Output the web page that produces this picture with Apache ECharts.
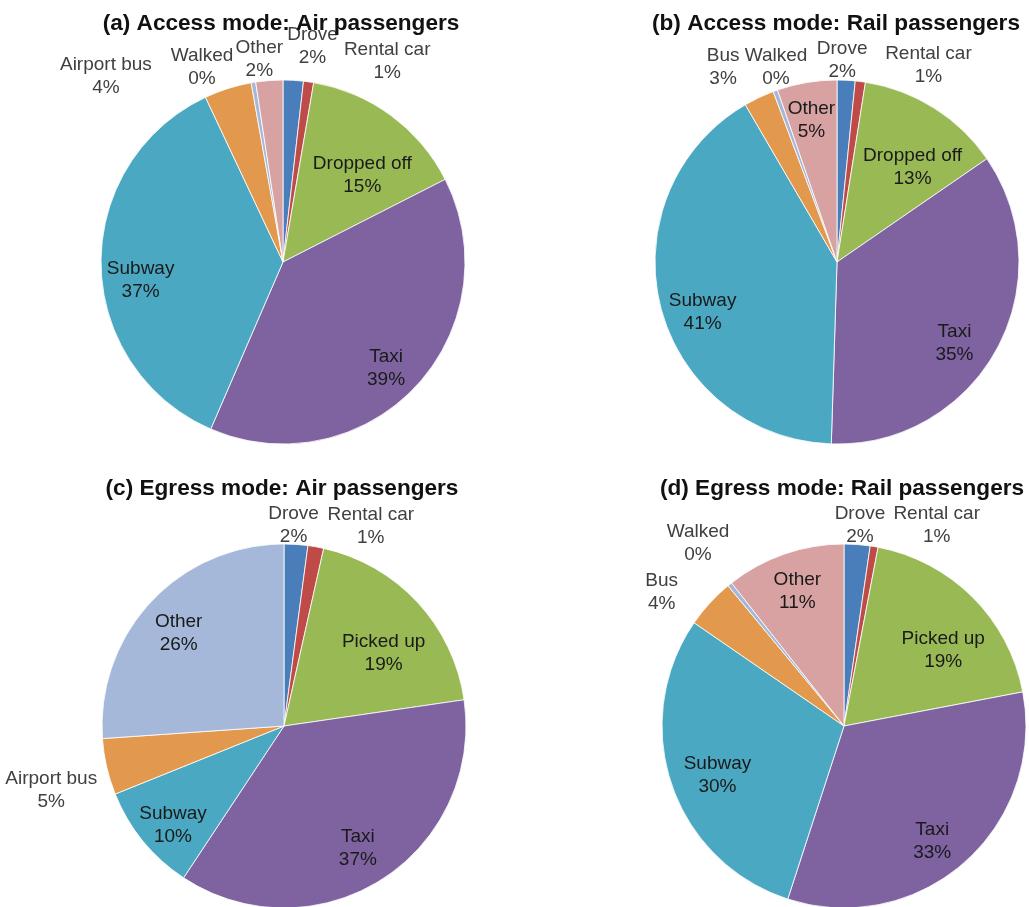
<!DOCTYPE html>
<html><head><meta charset="utf-8">
<script src="https://cdn.jsdelivr.net/npm/echarts@6/dist/echarts.min.js"></script>
<style>html,body{margin:0;padding:0;background:#fff}#c{width:1029px;height:907px}</style>
</head><body><div id="c"></div>
<script>
// ---- data (percent shares) ----
const titles = [
  '(a) Access mode: Air passengers',
  '(b) Access mode: Rail passengers',
  '(c) Egress mode: Air passengers',
  '(d) Egress mode: Rail passengers'
];
const catsA = ['Drove','Rental car','Dropped off','Taxi','Subway','Airport bus','Walked','Other'];
const valsA = [1.8, 0.9, 14.8, 39.0, 36.5, 4.2, 0.4, 2.4];
const catsB = ['Drove','Rental car','Dropped off','Taxi','Subway','Bus','Walked','Other'];
const valsB = [1.6, 0.9, 12.9, 35.1, 41.1, 2.7, 0.4, 5.3];
const catsC = ['Drove','Rental car','Picked up','Taxi','Subway','Airport bus','Other'];
const valsC = [2.1, 1.4, 19.2, 36.6, 9.6, 5.0, 26.1];
const catsD = ['Drove','Rental car','Picked up','Taxi','Subway','Bus','Walked','Other'];
const valsD = [2.3, 0.7, 19.0, 33.0, 29.6, 4.4, 0.4, 10.6];

// ---- styles ----
const palette = ['#4A7EBB','#BE4B48','#98B954','#7F63A1','#4BA8C2','#E2994E','#A5B8DA','#D8A2A2'];
const R = 182;
const pies = [
  { cats: catsA, vals: valsA, center: [283, 262], titlePos: [276, 7],
    inside: ['Dropped off','Taxi','Subway'],
    offs: {'Dropped off':[2,18],'Taxi':[8,17],'Subway':[-12,16],'Drove':[17,5],'Rental car':[73,18],'Airport bus':[-110,25],'Walked':[-45,24],'Other':[-7,18]} },
  { cats: catsB, vals: valsB, center: [837, 262], titlePos: [831, 7],
    inside: ['Dropped off','Taxi','Subway','Other'],
    offs: {'Dropped off':[6,16],'Taxi':[3,19],'Subway':[-8,18],'Other':[-4,-13],'Drove':[-6,19],'Rental car':[63,23],'Bus':[-19,5],'Walked':[14,14]} },
  { cats: catsC, vals: valsC, center: [284, 726], titlePos: [277, 472],
    inside: ['Picked up','Taxi','Subway','Other'],
    offs: {'Picked up':[4,16],'Taxi':[4,12],'Subway':[-10,17],'Other':[-10,-4],'Drove':[-5,20],'Rental car':[48,18],'Airport bus':[-17,15]} },
  { cats: catsD, vals: valsD, center: [844, 726], titlePos: [837, 472],
    inside: ['Picked up','Taxi','Subway','Other'],
    offs: {'Picked up':[7,16],'Taxi':[2,17],'Subway':[-3,7],'Other':[-4,-11],'Drove':[0,20],'Rental car':[56,18],'Bus':[-19,16],'Walked':[-7,-10]} }
];
const FONT = '"Liberation Sans", Arial, sans-serif';
const labelBase = {
  fontFamily: FONT, fontSize: 19, lineHeight: 23, rotate: 0,
  formatter: p => p.name + '\n' + Math.round(p.value) + '%'
};

const series = [];
pies.forEach((pc, k) => {
  const dataMain = pc.cats.map((c, i) => ({ name: c, value: pc.vals[i], itemStyle: { color: palette[i] } }));
  series.push({
    type: 'pie', center: pc.center, radius: [0, R], startAngle: 90, clockwise: true,
    silent: true, avoidLabelOverlap: false, label: { show: false }, labelLine: { show: false },
    itemStyle: { borderColor: '#ffffff', borderWidth: 0.8 },
    data: dataMain, animation: false
  });
  const mk = (isInside) => pc.cats.map((c, i) => ({
    name: c, value: pc.vals[i],
    label: { show: pc.inside.includes(c) === isInside }
  }));
  const lay = p => { const o = pc.offs[pc.cats[p.dataIndex]] || [0, 0]; return { dx: o[0], dy: o[1] }; };
  // inside labels (overlay ring, label at 0.7R)
  series.push({
    type: 'pie', center: pc.center, radius: [0.4 * R, R], startAngle: 90, clockwise: true,
    silent: true, avoidLabelOverlap: false, animation: false,
    itemStyle: { color: 'rgba(0,0,0,0)', borderWidth: 0 },
    label: Object.assign({ position: 'inside', color: '#1a1a1a' }, labelBase),
    labelLine: { show: false }, labelLayout: lay,
    emphasis: { disabled: true }, data: mk(true)
  });
  // outside labels (overlay ring, label at 1.2R)
  series.push({
    type: 'pie', center: pc.center, radius: [R, 1.4 * R], startAngle: 90, clockwise: true,
    silent: true, avoidLabelOverlap: false, animation: false,
    itemStyle: { color: 'rgba(0,0,0,0)', borderWidth: 0 },
    label: Object.assign({ position: 'inside', color: '#404040' }, labelBase),
    labelLine: { show: false }, labelLayout: lay,
    emphasis: { disabled: true }, data: mk(false)
  });
});

const chart = echarts.init(document.getElementById('c'), null, { renderer: 'canvas' });
chart.setOption({
  backgroundColor: '#ffffff',
  animation: false,
  title: pies.map((pc, k) => ({
    text: titles[k], left: pc.titlePos[0], top: pc.titlePos[1], textAlign: 'center',
    textStyle: { fontFamily: FONT, fontSize: 22.6, fontWeight: 'bold', color: '#111' }
  })),
  series: series
});
</script></body></html>
